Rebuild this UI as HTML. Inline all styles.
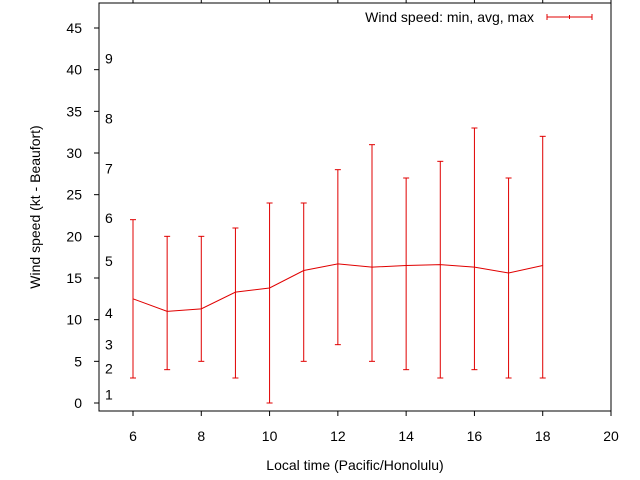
<!DOCTYPE html>
<html><head><meta charset="utf-8"><style>body{margin:0;background:#fff}svg{display:block;font-family:"Liberation Sans",sans-serif}</style></head>
<body>
<svg id="chart" width="640" height="480" xmlns="http://www.w3.org/2000/svg"></svg>
<script>
const hours=[6,7,8,9,10,11,12,13,14,15,16,17,18];
const avgSpeed=[12.5,11,11.3,13.3,13.8,15.9,16.7,16.3,16.5,16.6,16.3,15.6,16.5];
const minSpeed=[3,4,5,3,0,5,7,5,4,3,4,3,3];
const maxSpeed=[22,20,20,21,24,24,28,31,27,29,33,27,32];
const xTicks=[6,8,10,12,14,16,18,20];
const yTicks=[0,5,10,15,20,25,30,35,40,45];
const beaufort=["1","2","3","4","5","6","7","8","9"];
const beaufortKt=[1.5,4.6,7.5,11.3,17.5,22.7,28.6,34.6,41.8];
const L=99,R=611,T=3,B=411;
const X=v=>133+(v-6)*(611-133)/14;
const Y=v=>403-v*(403-28)/45;
const svg=document.getElementById('chart');
const NS='http://www.w3.org/2000/svg';
function mk(tag,attrs,parent){const e=document.createElementNS(NS,tag);for(const k in attrs)e.setAttribute(k,attrs[k]);(parent||svg).appendChild(e);return e;}
let f=mk('rect',{x:L,y:T,width:R-L,height:B-T,fill:'none',stroke:'#000','stroke-width':1});


yTicks.forEach(v=>{
 const t=mk('line',{x1:94,x2:L,y1:Y(v),y2:Y(v),stroke:'#000'});
 
 
 const l=mk('text',{x:82,y:Y(v)+5,'text-anchor':'end','font-size':14});
 l.textContent=v;
 
 
});
xTicks.forEach(v=>{
 const t=mk('line',{x1:X(v),x2:X(v),y1:B,y2:B+5,stroke:'#000'});
 
 
 const t2=mk('line',{x1:X(v),x2:X(v),y1:0,y2:T,stroke:'#000'});
 
 
 const l=mk('text',{x:X(v),y:441,'text-anchor':'middle','font-size':14});
 l.textContent=v;
 
 
});
beaufort.forEach((b,i)=>{
 const l=mk('text',{x:105,y:Y(beaufortKt[i])+9,'font-size':14});
 l.textContent=b;
 
 
});
hours.forEach((h,i)=>{
 const g=mk('g',{stroke:'#e00000','stroke-width':1});
 
 
 mk('line',{x1:X(h),x2:X(h),y1:Y(minSpeed[i]),y2:Y(maxSpeed[i])},g);
 mk('line',{x1:X(h)-3,x2:X(h)+3,y1:Y(minSpeed[i]),y2:Y(minSpeed[i])},g);
 mk('line',{x1:X(h)-3,x2:X(h)+3,y1:Y(maxSpeed[i]),y2:Y(maxSpeed[i])},g);
});
const p=mk('polyline',{points:hours.map((h,i)=>X(h)+','+Y(avgSpeed[i])).join(' '),fill:'none',stroke:'#e00000','stroke-width':1});


const lt=mk('text',{x:534,y:22,'text-anchor':'end','font-size':14});
lt.textContent='Wind speed: min, avg, max';


const lg=mk('g',{stroke:'#e00000'});


mk('line',{x1:547,x2:592,y1:17,y2:17},lg);
mk('line',{x1:547,x2:547,y1:14,y2:20},lg);
mk('line',{x1:592,x2:592,y1:14,y2:20},lg);
mk('line',{x1:569.5,x2:569.5,y1:15,y2:19},lg);
const xt=mk('text',{x:355,y:470,'text-anchor':'middle','font-size':14});
xt.textContent='Local time (Pacific/Honolulu)';


const yt=mk('text',{x:0,y:0,'text-anchor':'middle','font-size':14,transform:'translate(40,207) rotate(-90)'});
yt.textContent='Wind speed (kt - Beaufort)';


</script>
</body></html>
